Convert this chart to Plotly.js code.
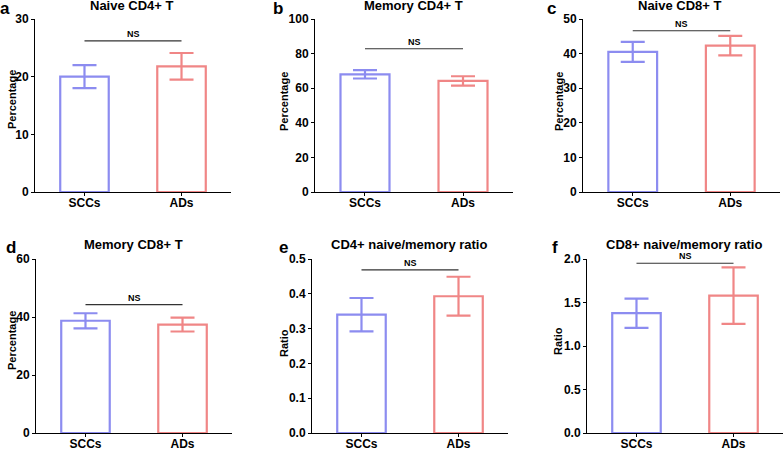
<!DOCTYPE html>
<html><head><meta charset="utf-8">
<script src="https://cdn.plot.ly/plotly-3.0.1.min.js"></script>
<style>html,body{margin:0;padding:0;background:#fff}#chart{width:784px;height:449px}</style>
</head><body><div id="chart"></div>
<script>
const categories = ['SCCs', 'ADs'];
const panelLabels = ['a', 'b', 'c', 'd', 'e', 'f'];
const panelTitles = ['Naive CD4+ T', 'Memory CD4+ T', 'Naive CD8+ T', 'Memory CD8+ T', 'CD4+ naive/memory ratio', 'CD8+ naive/memory ratio'];
const yTitles = ['Percentage', 'Percentage', 'Percentage', 'Percentage', 'Ratio', 'Ratio'];
const sccMeans = [20.0, 68.0, 40.5, 38.7, 0.340, 1.377];
const sccErrors = [2.0, 2.4, 2.9, 2.6, 0.048, 0.168];
const adMeans = [21.8, 64.2, 42.3, 37.4, 0.393, 1.579];
const adErrors = [2.3, 2.7, 2.8, 2.4, 0.056, 0.325];
const nsLevels = [26.2, 82.8, 46.6, 44.3, 0.469, 1.951];
const nsText = 'NS';
const yMax = [30, 100, 50, 60, 0.5, 2.0];
const yStep = [10, 20, 10, 20, 0.1, 0.5];
const yFormat = ['', '', '', '', '.1f', '.1f'];

const W = 784, H = 449;
const FONT = '"Liberation Sans", Arial, sans-serif';
const BLUE = '#8c8cf0', RED = '#f08686';
// pixel boxes of each plot area [x0, x1, yTop, yBottom]
const boxes = [
  [35, 231, 19, 192], [315, 513, 19, 192], [583, 780, 19, 192],
  [36, 232, 259, 433], [312, 508, 259, 433], [587, 783, 259, 433]
];
const titlePos = [[132, 6], [413, 6], [680, 6], [133, 245], [409, 245], [684, 245]];
const labelPos = [[5, 8], [278, 9], [551, 9], [11, 247], [283, 248], [555, 247]];
const yTitlePos = [[12, 100], [284, 102], [559, 102], [12, 341], [284, 343], [558, 341]];
const px = x => x / W, py = y => 1 - y / H;

const traces = [];
const layout = {
  width: W, height: H, margin: {l: 0, r: 0, t: 0, b: 0},
  paper_bgcolor: '#fff', plot_bgcolor: '#fff', showlegend: false,
  barmode: 'overlay', font: {family: FONT, color: '#000'},
  annotations: [], shapes: []
};

for (let i = 0; i < 6; i++) {
  const s = i === 0 ? '' : String(i + 1);
  const xa = 'x' + s, ya = 'y' + s;
  const b = boxes[i];
  [[0, sccMeans[i], sccErrors[i], BLUE], [1, adMeans[i], adErrors[i], RED]].forEach(([k, v, e, c]) => {
    traces.push({
      type: 'bar', x: [categories[k]], y: [v], xaxis: xa, yaxis: ya, width: 0.5,
      marker: {color: 'rgba(255,255,255,1)', line: {color: c, width: 2.2}},
      error_y: {type: 'data', array: [e], visible: true, color: c, thickness: 2.2, width: 12},
      hoverinfo: 'skip'
    });
  });
  layout['xaxis' + s] = {
    domain: [px(b[0]), px(b[1])], anchor: ya, type: 'category', range: [-0.51, 1.51],
    showline: true, linecolor: '#000', linewidth: 1, ticks: 'outside', ticklen: 3, tickcolor: '#000',
    ticklabelstandoff: -3,
    showgrid: false, zeroline: false, fixedrange: true,
    tickfont: {family: FONT, size: 12, weight: 'bold', color: '#000'}
  };
  layout['yaxis' + s] = {
    domain: [py(b[3]), py(b[2])], anchor: xa, range: [0, yMax[i]], dtick: yStep[i], tick0: 0,
    tickformat: yFormat[i], showline: true, linecolor: '#000', linewidth: 1,
    ticks: 'outside', ticklen: 3, tickcolor: '#000', showgrid: false, zeroline: false, fixedrange: true,
    tickfont: {family: FONT, size: 12, weight: 'bold', color: '#000'}
  };
  layout.shapes.push({
    type: 'line', xref: xa, yref: ya, x0: categories[0], x1: categories[1],
    y0: nsLevels[i], y1: nsLevels[i], line: {color: '#333', width: 1.2}
  });
  layout.annotations.push({
    xref: xa, yref: ya, x: 0.5, y: nsLevels[i], yanchor: 'bottom', showarrow: false,
    text: nsText, font: {family: FONT, size: 9, weight: 'bold', color: '#000'}
  });
  layout.annotations.push({
    xref: 'paper', yref: 'paper', x: px(titlePos[i][0]), y: py(titlePos[i][1]), xanchor: 'center', yanchor: 'middle',
    showarrow: false, text: panelTitles[i], font: {family: FONT, size: 13, weight: 'bold', color: '#000'}
  });
  layout.annotations.push({
    xref: 'paper', yref: 'paper', x: px(labelPos[i][0]), y: py(labelPos[i][1]), xanchor: 'center', yanchor: 'middle',
    showarrow: false, text: panelLabels[i], font: {family: FONT, size: 17, weight: 'bold', color: '#000'}
  });
  layout.annotations.push({
    xref: 'paper', yref: 'paper', x: px(yTitlePos[i][0]), y: py(yTitlePos[i][1]), xanchor: 'center', yanchor: 'middle',
    showarrow: false, textangle: -90, text: yTitles[i], font: {family: FONT, size: 11, weight: 'bold', color: '#000'}
  });
}

Plotly.newPlot('chart', traces, layout, {displayModeBar: false, staticPlot: true});
</script>
</body></html>
